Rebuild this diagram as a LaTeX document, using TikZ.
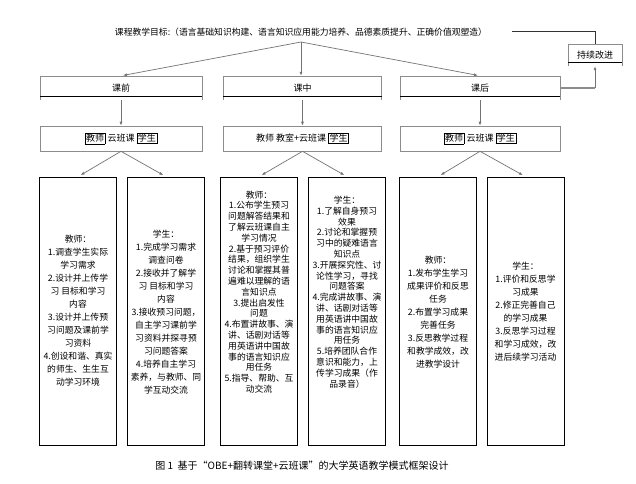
\documentclass[tikz,border=0pt]{standalone}
\usepackage{fontspec}
\setmainfont{Noto Sans CJK SC}
\usetikzlibrary{arrows.meta}
\newcommand{\kuang}[1]{{\setlength{\fboxsep}{0.8pt}\setlength{\fboxrule}{0.6pt}\fbox{#1}}}
\tikzset{
  arr/.style={draw=black!55, line width=0.7pt, -{Latex[length=4pt,width=3pt]}},
  phase/.style={minimum height=24pt, inner sep=0pt, font=\fontsize{9}{11}\selectfont},
  tool/.style={draw=black!45, line width=0.6pt, minimum height=25pt, inner sep=0pt, font=\fontsize{9}{11}\selectfont},
  txtbox/.style={draw, line width=0.7pt, minimum width=77pt, minimum height=268pt, inner sep=0pt},
  txt/.style={align=center, inner sep=0pt, font=\fontsize{8.8}{13}\selectfont},
  txtmid/.style={txt, font=\fontsize{8.8}{10.8}\selectfont}
}
\begin{document}
\begin{tikzpicture}[x=1pt, y=-1pt]
\useasboundingbox (0,0) rectangle (636,483);
\node[font=\fontsize{8.8}{10}\selectfont] (goal) at (301,32) {课程教学目标:（语言基础知识构建、语言知识应用能力培养、品德素质提升、正确价值观塑造）};
\coordinate (split) at (301,42);
\coordinate (fb) at (512,31);

\node[phase, minimum width=162pt] (pre) at (121,88) {\raisebox{-1.5pt}{课前}};
\node[phase, minimum width=158pt] (in) at (302.5,88) {\raisebox{-1.5pt}{课中}};
\node[phase, minimum width=160pt] (post) at (480,88) {\raisebox{-1.5pt}{课后}};
\node[phase, minimum width=54pt, minimum height=22pt] (improve) at (595,55) {持续改进};
\foreach \p in {pre,in,post,improve}{
  \draw[black!45, line width=0.6pt] (\p.south west) -- (\p.north west) -- (\p.north east) -- (\p.south east);
  \draw[line width=0.9pt] ([yshift=4pt]\p.south west) -- ([yshift=4pt]\p.south east);
}

\node[tool, minimum width=162pt] (pre2) at (121,138.5) {\kuang{教师} 云班课 \kuang{学生}};
\node[tool, minimum width=158pt] (in2) at (302.5,138.5) {教师 教室+云班课 \kuang{学生}};
\node[tool, minimum width=160pt] (post2) at (480,138.5) {\kuang{教师} 云班课 \kuang{学生}};

\node[txtbox] (preT) at (78,311) {};
\node[txtbox] (preS) at (166,311) {};
\node[txtbox] (inT) at (259,311) {};
\node[txtbox] (inS) at (347,311) {};
\node[txtbox] (postT) at (438,311) {};
\node[txtbox] (postS) at (525.5,311) {};

\node[txt] (preTt) at (preT.center) {教师：\\1.调查学生实际\\学习需求\\2.设计并上传学\\习 目标和学习\\内容\\3.设计并上传预\\习问题及课前学\\习资料\\4.创设和谐、真实\\的师生、生生互\\动学习环境};
\node[txt] (preSt) at ([yshift=-1pt]preS.center) {学生：\\1.完成学习需求\\调查问卷\\2.接收并了解学\\习 目标和学习\\内容\\3.接收预习问题，\\自主学习课前学\\习资料并探寻预\\习问题答案\\4.培养自主学习\\素养，与教师、同\\学互动交流};
\node[txtmid] (inTt) at (259,292) {教师：\\1.公布学生预习\\问题解答结果和\\了解云班课自主\\学习情况\\2.基于预习评价\\结果，组织学生\\讨论和掌握其普\\遍难以理解的语\\言知识点\\3.提出启发性\\问题\\4.布置讲故事、演\\讲、话剧对话等\\用英语讲中国故\\事的语言知识应\\用任务\\5.指导、帮助、互\\动交流};
\node[txtmid] (inSt) at (347,292) {学生：\\1.了解自身预习\\效果\\2.讨论和掌握预\\习中的疑难语言\\知识点\\3.开展探究性、讨\\论性学习，寻找\\问题答案\\4.完成讲故事、演\\讲、话剧对话等\\用英语讲中国故\\事的语言知识应\\用任务\\5.培养团队合作\\意识和能力，上\\传学习成果（作\\品录音）};
\node[txt] (postTt) at ([yshift=-1pt]postT.center) {教师：\\1.发布学生学习\\成果评价和反思\\任务\\2.布置学习成果\\完善任务\\3.反思教学过程\\和教学成效，改\\进教学设计};
\node[txt] (postSt) at ([yshift=-1pt]postS.center) {学生：\\1.评价和反思学\\习成果\\2.修正完善自己\\的学习成果\\3.反思学习过程\\和学习成效，改\\进后续学习活动};

\draw[arr, shorten >=2pt] (split) -- (pre.north);
\draw[arr] (split) -- (split |- in.north);
\draw[arr, shorten >=2pt] (split) -- (post.north);
\draw[arr] (pre.south) -- (pre2.north);
\draw[arr] (in.south) -- (in2.north);
\draw[arr] (post.south) -- (post2.north);
\foreach \a/\b/\c in {pre2/preT/preS, in2/inT/inS, post2/postT/postS}{
  \draw[arr, shorten >=3pt] (\a.south) -- (\b.north);
  \draw[arr, shorten >=3pt] (\a.south) -- (\c.north);
}
\draw[black!80, line width=0.6pt] (fb) -| (improve.north);
\draw[black!45, line width=1.8pt] (post.east) -- (post.east -| improve.south);
\draw[arr] (post.east -| improve.south) -- (improve.south);

\node[font=\fontsize{10}{12}\selectfont] (cap) at (302,466) {图 1\ \ 基于“OBE+翻转课堂+云班课”的大学英语教学模式框架设计};
\end{tikzpicture}
\end{document}
